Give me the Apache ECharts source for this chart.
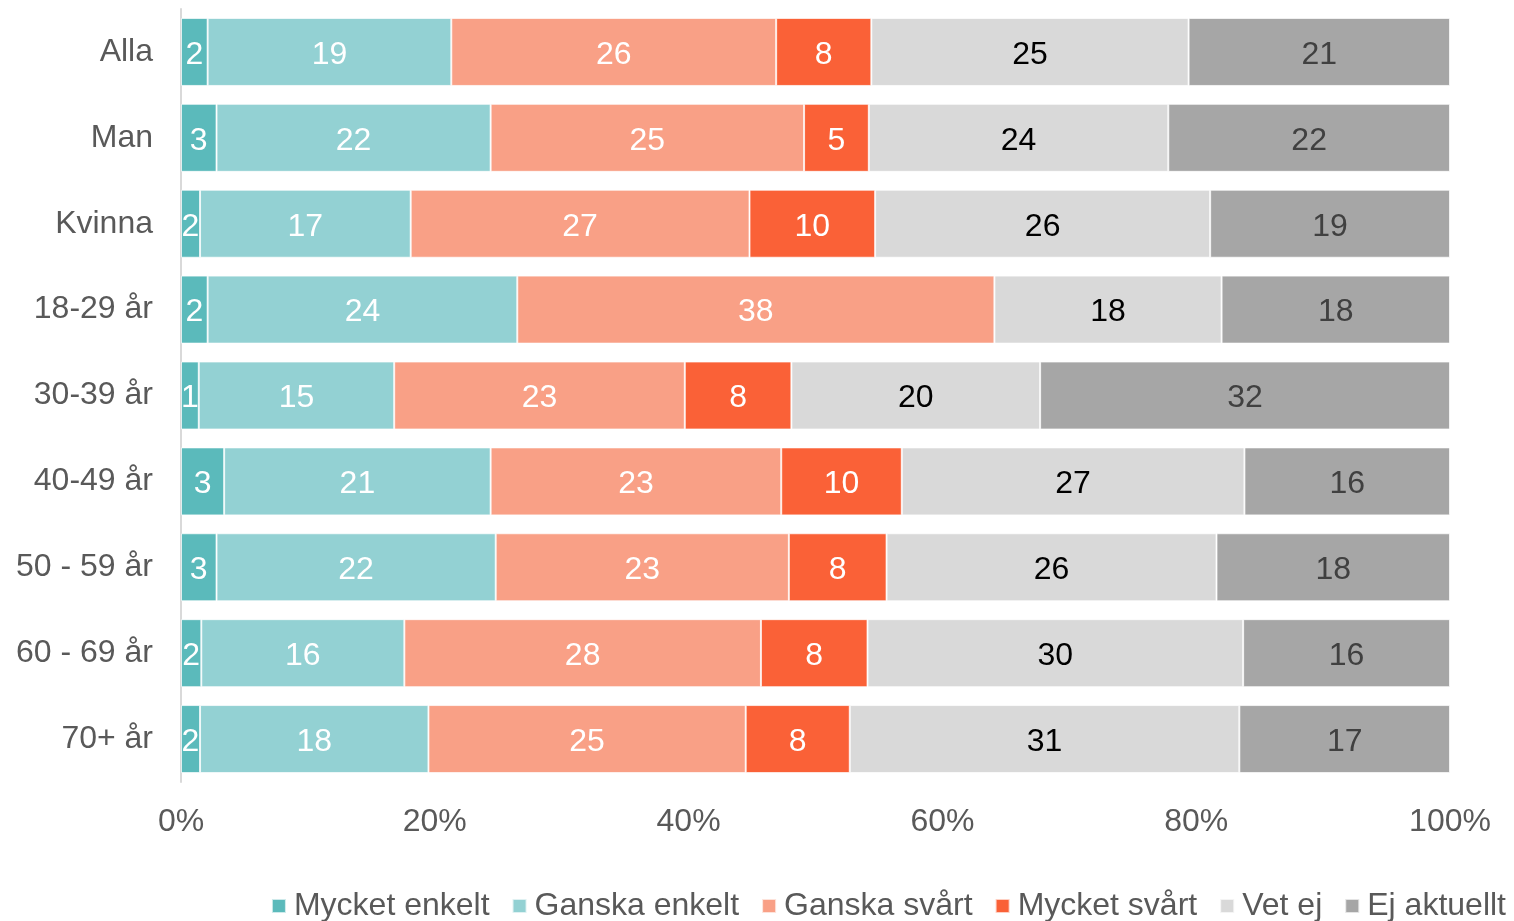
<!DOCTYPE html>
<html>
<head>
<meta charset="utf-8">
<script src="https://cdn.jsdelivr.net/npm/echarts@6/dist/echarts.min.js"></script>
<style>
  html, body { margin: 0; padding: 0; background: #fff; }
  #chart { width: 1514px; height: 921px; }
</style>
</head>
<body>
<div id="chart"></div>
<script>
// kategorier (uppifrån och ned)
const categories = ['Alla', 'Man', 'Kvinna', '18-29 år', '30-39 år', '40-49 år', '50 - 59 år', '60 - 69 år', '70+ år'];
const seriesNames = ['Mycket enkelt', 'Ganska enkelt', 'Ganska svårt', 'Mycket svårt', 'Vet ej', 'Ej aktuellt'];

// andelar i procent
const mycketEnkelt = [2.1, 2.8, 1.5, 2.1, 1.4, 3.4, 2.8, 1.6, 1.5];
const ganskaEnkelt = [19.2, 21.6, 16.6, 24.4, 15.4, 21.0, 22.0, 16.0, 18.0];
const ganskaSvart  = [25.6, 24.7, 26.7, 37.6, 22.9, 22.9, 23.1, 28.1, 25.0];
const mycketSvart  = [7.5, 5.1, 9.9, 0, 8.4, 9.5, 7.7, 8.4, 8.2];
const vetEj        = [25.0, 23.6, 26.4, 17.9, 19.6, 27.0, 26.0, 29.6, 30.7];
const ejAktuellt   = [20.6, 22.2, 18.9, 18.0, 32.3, 16.2, 18.4, 16.3, 16.6];

const xTicks = [0, 20, 40, 60, 80, 100];

const colors = ['#5BBABB', '#93D1D3', '#F9A086', '#FA6137', '#D9D9D9', '#A6A6A6'];
const labelColors = ['#fff', '#fff', '#fff', '#fff', '#000', '#404040'];
const values = [mycketEnkelt, ganskaEnkelt, ganskaSvart, mycketSvart, vetEj, ejAktuellt];

const FONT = 'Liberation Sans, Arial, sans-serif';
const FS = 32;

const chart = echarts.init(document.getElementById('chart'));

const option = {
  backgroundColor: '#fff',
  animation: false,
  textStyle: { fontFamily: FONT },
  grid: {
    left: 181,
    right: 64,
    top: 9,
    bottom: 139
  },
  legend: {
    right: 3,
    bottom: -6,
    icon: 'rect',
    itemWidth: 14,
    itemHeight: 14,
    itemGap: 22,
    textStyle: {
      color: '#595959',
      fontSize: FS,
      fontFamily: FONT,
      padding: [0, 0, 0, 3]
    },
    data: seriesNames
  },
  xAxis: {
    type: 'value',
    min: 0,
    max: 100,
    interval: 20,
    axisLine: { show: false },
    axisTick: { show: false },
    splitLine: { show: false },
    axisLabel: {
      color: '#595959',
      fontSize: FS,
      margin: 24,
      formatter: (v) => xTicks.includes(v) ? v + '%' : ''
    }
  },
  yAxis: {
    type: 'category',
    inverse: true,
    data: categories,
    axisLine: { show: true, lineStyle: { color: '#D9D9D9', width: 2 } },
    axisTick: { show: false },
    axisLabel: {
      color: '#595959',
      fontSize: FS,
      margin: 28,
      padding: [5, 0, 0, 0]
    }
  },
  series: seriesNames.map((name, i) => ({
    name: name,
    type: 'bar',
    stack: 'total',
    barWidth: 68,
    itemStyle: {
      color: colors[i],
      borderColor: 'rgba(255,255,255,0.7)',
      borderWidth: 1
    },
    label: {
      show: true,
      position: 'inside',
      offset: [0, 3],
      color: labelColors[i],
      fontSize: FS,
      fontFamily: FONT,
      formatter: (p) => p.value >= 0.5 ? String(Math.round(p.value)) : ''
    },
    data: values[i]
  }))
};

chart.setOption(option);
</script>
</body>
</html>
